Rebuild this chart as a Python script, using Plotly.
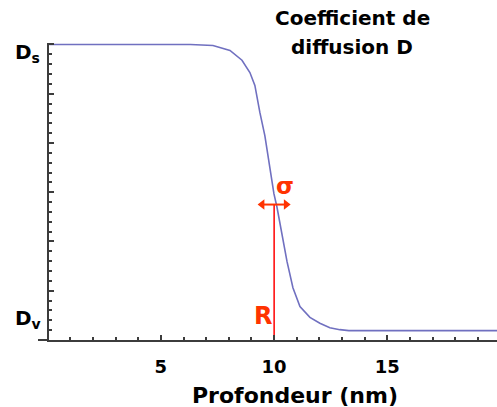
import plotly.graph_objects as go

# ---- data ----
DEPTH_NM = [0.07, 6.3, 7.3, 8.05, 8.58, 8.93, 9.15, 9.28, 9.37, 9.59, 9.77, 9.99,
            10.12, 10.34, 10.57, 10.83, 11.14, 11.58, 12.02, 12.46, 12.9, 13.3, 19.9]
D_VALUES = [6.0, 6.0, 5.98, 5.88, 5.68, 5.43, 5.17, 4.82, 4.62, 4.15, 3.65, 2.97,
            2.71, 2.12, 1.59, 1.06, 0.68, 0.46, 0.34, 0.25, 0.21, 0.19, 0.19]
R_POS = 10.0          # interface position R
SIGMA_HALF = 0.68     # half width of sigma arrow
MARK_LEVEL = 2.75     # height of R line / sigma arrow
X_TICKS = [5, 10, 15]
X_TICK_LABELS = ["5", "10", "15"]
TITLE_LINES = ["Coefficient de", "diffusion D"]
X_TITLE = "Profondeur (nm)"

FONT = "DejaVu Sans"
RED = "#ff3300"
CURVE = "#7070c0"
AXIS = "#3c3c3c"

W, H = 497, 407
ML, MR, MT, MB = 49, 0, 43, 67
PW, PH = W - ML - MR, H - MT - MB


def px(xp):
    return (xp - ML) / PW


def py(yp):
    return (H - MB - yp) / PH


def label(x, y, text, size, color="black", xanchor="center"):
    fig.add_annotation(x=px(x), y=py(y), xref="paper", yref="paper", text=text,
                       xanchor=xanchor, yanchor="middle", showarrow=False,
                       font=dict(family=FONT, size=size, color=color))


fig = go.Figure()
fig.add_trace(go.Scatter(x=DEPTH_NM, y=D_VALUES, mode="lines",
                         line=dict(color=CURVE, width=1.6), hoverinfo="skip"))
fig.add_trace(go.Scatter(x=[R_POS, R_POS], y=[0, MARK_LEVEL], mode="lines",
                         line=dict(color="#ff0000", width=1.5), hoverinfo="skip"))

# sigma double arrow
fig.add_trace(go.Scatter(x=[R_POS - SIGMA_HALF + 0.15, R_POS + SIGMA_HALF - 0.15],
                         y=[MARK_LEVEL, MARK_LEVEL], mode="lines+markers",
                         line=dict(color=RED, width=2),
                         marker=dict(symbol=["triangle-left", "triangle-right"], size=9,
                                     color=RED, line=dict(width=0)),
                         hoverinfo="skip"))
fig.add_annotation(x=R_POS + 0.48, y=3.12, xref="x", yref="y", text="<b>σ</b>",
                   xanchor="center", yanchor="middle",
                   showarrow=False, font=dict(family=FONT, size=23, color=RED))
fig.add_annotation(x=R_POS - 0.5, y=0.48, xref="x", yref="y", text="<b>R</b>",
                   xanchor="center", yanchor="middle",
                   showarrow=False, font=dict(family=FONT, size=24, color=RED))

# title
label(352, 18, "<b>%s</b>" % TITLE_LINES[0], 20)
label(352, 47, "<b>%s</b>" % TITLE_LINES[1], 20)

# D_s and D_v labels
label(13, 53, "<b>D<sub>s</sub></b>", 20, xanchor="left")
label(13, 319, "<b>D<sub>v</sub></b>", 20, xanchor="left")

# x axis title
label(295, 395, "<b>%s</b>" % X_TITLE, 22)

# extension of the x axis line to the left
fig.add_shape(type="line", xref="paper", yref="paper", x0=px(38), x1=0, y0=0, y1=0,
              line=dict(color=AXIS, width=2))

fig.update_xaxes(range=[0.06, 19.84], showgrid=False, zeroline=False,
                 showline=True, linecolor=AXIS, linewidth=2,
                 ticks="inside", ticklen=5, tickwidth=1.5, tickcolor=AXIS,
                 tickvals=X_TICKS, ticktext=["<b>%s</b>" % t for t in X_TICK_LABELS],
                 tickfont=dict(family=FONT, size=18, color="black"),
                 ticklabelstandoff=9,
                 minor=dict(ticks="inside", dtick=1, tick0=0, ticklen=3, tickwidth=1.5, tickcolor=AXIS))
fig.update_yaxes(range=[0, 6.03], showgrid=False, zeroline=False,
                 showline=True, linecolor=AXIS, linewidth=2,
                 ticks="inside", ticklen=5, tickwidth=1.5, tickcolor=AXIS,
                 tick0=0, dtick=1, showticklabels=False,
                 minor=dict(ticks="inside", dtick=0.2, tick0=0, ticklen=3, tickwidth=1.5, tickcolor=AXIS))

fig.update_layout(width=W, height=H, margin=dict(l=ML, r=MR, t=MT, b=MB),
                  paper_bgcolor="white", plot_bgcolor="white", showlegend=False,
                  font=dict(family=FONT))
fig.write_html("out.html", config={"displayModeBar": False},
               post_script="document.body.style.margin='0';")
